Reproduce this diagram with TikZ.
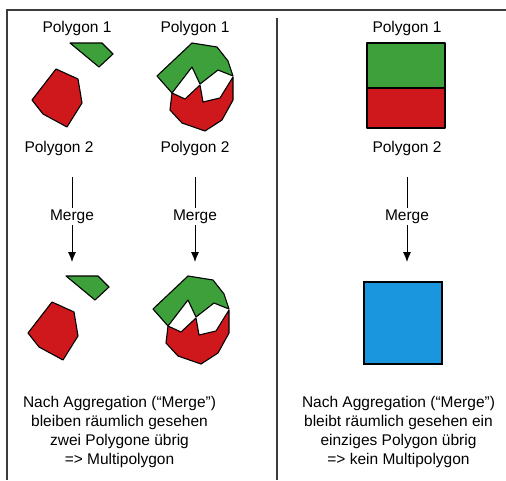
\documentclass[tikz,border=0pt]{standalone}
\usepackage{fontspec}
\setmainfont{Liberation Sans}
\usetikzlibrary{arrows.meta,positioning}

\definecolor{polygreen}{RGB}{62,160,58}
\definecolor{polyred}{RGB}{206,24,28}
\definecolor{polyblue}{RGB}{26,150,222}
\definecolor{framegray}{RGB}{60,60,60}

% two separate polygons (left column)
\newcommand{\leftpolys}{%
  \draw[greenpoly] (70,43) -- (102,43) -- (113,54) -- (99,67) -- cycle;
  \draw[redpoly] (56,69) -- (78,79) -- (82,103) -- (67,127) -- (43,114) -- (32,100) -- cycle;
}
% two polygons touching in one point (middle column)
\newcommand{\middlepolys}{%
  \draw[greenpoly] (157,76) -- (192,43) -- (217,47) -- (228,61) -- (233,76)
    -- (218,70) -- (200,84) -- (192,67) -- (172,93) -- cycle;
  \draw[redpoly] (172,93) -- (185,99) -- (200,85) -- (203,102) -- (220,98)
    -- (233,77) -- (233,100) -- (222,120) -- (205,131) -- (182,123) -- (170,110) -- cycle;
}

\begin{document}
\begin{tikzpicture}[
    x=1pt, y=-1pt,
    label/.style={font=\fontsize{15.5}{19}\selectfont, inner sep=1.5pt},
    note/.style={label, align=center},
    greenpoly/.style={draw=black, line width=1.1pt, line join=round, fill=polygreen},
    redpoly/.style={draw=black, line width=1.1pt, line join=round, fill=polyred},
    frame/.style={draw=framegray, line width=1.4pt},
    arrow/.style={-{Latex[length=10pt,width=8pt]}, line width=0.9pt}
]
    \useasboundingbox (0,0) rectangle (506,480);

    % frame and divider
    \draw[frame] (506,10) -- (7,10) -- (7,480);
    \draw[frame] (277,18) -- (277,480);

    % labels
    \node[label] (l1) at (77,28) {Polygon 1};
    \node[label] (l2) at (59,148) {Polygon 2};
    \node[label] (m1) at (195,28) {Polygon 1};
    \node[label] (m2) at (195,148) {Polygon 2};
    \node[label] (r1) at (407,28) {Polygon 1};
    \node[label] (r2) at (407,148) {Polygon 2};

    % polygons before the merge
    \leftpolys
    \middlepolys
    \draw[greenpoly] (367,43) rectangle (445,88);
    \draw[redpoly] (367,88) rectangle (445,128);

    % polygons after the merge
    \begin{scope}[shift={(-4,233)}]
        \leftpolys
        \middlepolys
    \end{scope}
    \draw[draw=black, line width=1.1pt, fill=polyblue] (364,282) rectangle (442,364);

    % merge arrows
    \coordinate (ltop) at (72,177);
    \coordinate (lend) at (72,262);
    \coordinate (mtop) at (195,177);
    \coordinate (mend) at (195,262);
    \coordinate (rtop) at (407,177);
    \coordinate (rend) at (407,262);
    \node[label] (lmerge) at (72,216.5) {Merge};
    \node[label] (mmerge) at (195,216.5) {Merge};
    \node[label] (rmerge) at (407,216.5) {Merge};
    \draw[line width=0.9pt] (ltop) -- (lmerge);
    \draw[arrow] (lmerge) -- (lend);
    \draw[line width=0.9pt] (mtop) -- (mmerge);
    \draw[arrow] (mmerge) -- (mend);
    \draw[line width=0.9pt] (rtop) -- (rmerge);
    \draw[arrow] (rmerge) -- (rend);

    % conclusions
    \node[note] (lnote) at (119.5,432) {Nach Aggregation (“Merge”)\\bleiben räumlich gesehen\\zwei Polygone übrig\\=> Multipolygon};
    \node[note] (rnote) at (398.5,432) {Nach Aggregation (“Merge”)\\bleibt räumlich gesehen ein\\einziges Polygon übrig\\=> kein Multipolygon};
\end{tikzpicture}
\end{document}
